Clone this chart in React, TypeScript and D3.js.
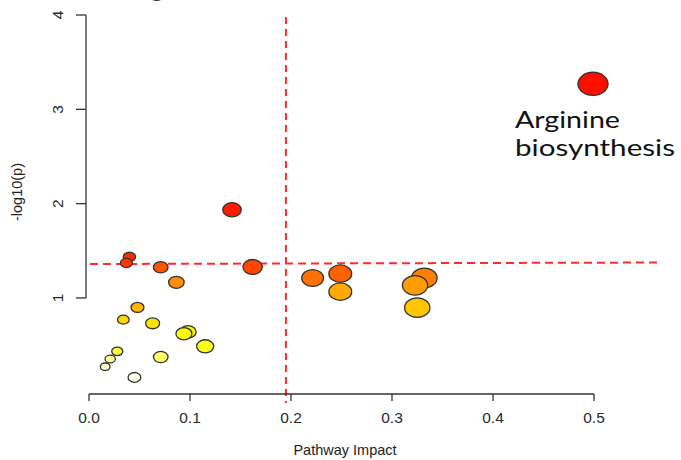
import React from "react";
import * as d3 from "d3";

// Pathway data (ordered by -log10(p), descending = plotting order)
const pathwayImpact = [0.067, 0.499, 0.1416, 0.04, 0.037, 0.162, 0.071, 0.2488, 0.2214, 0.332, 0.0865, 0.3228, 0.2488, 0.048, 0.325, 0.034, 0.063, 0.098, 0.094, 0.115, 0.028, 0.071, 0.021, 0.016, 0.045];
const negLogP = [4.214, 3.27, 1.936, 1.435, 1.371, 1.329, 1.325, 1.258, 1.212, 1.212, 1.166, 1.134, 1.067, 0.9, 0.897, 0.77, 0.731, 0.64, 0.621, 0.487, 0.434, 0.374, 0.353, 0.271, 0.158];
const xTicks = [0, 0.1, 0.2, 0.3, 0.4, 0.5];
const yTicks = [1, 2, 3, 4];
const impactThreshold = 0.195;
const pThreshold = 1.36;
const labelLines = ["Arginine", "biosynthesis"];
const labelIndex = 1;

function hsvToRgb(h: number, s: number, v: number) {
  const f = (n: number) => {
    const k = (n + h * 6) % 6;
    return v - v * s * Math.max(0, Math.min(k, 4 - k, 1));
  };
  return d3.rgb(f(5) * 255, f(3) * 255, f(1) * 255).formatHex();
}

// R's heat.colors(n)
function heatColors(n: number) {
  const j = Math.floor(n / 4);
  const i = n - j;
  const cols: string[] = [];
  for (let k = 0; k < i; k++) {
    const h = i > 1 ? (k / (i - 1)) * (1 / 6) : 0;
    cols.push(hsvToRgb(h, 1, 1));
  }
  for (let k = 0; k < j; k++) {
    const s0 = 1 - 1 / (2 * j);
    const s1 = 1 / (2 * j);
    const s = j > 1 ? s0 + ((s1 - s0) * k) / (j - 1) : s0;
    cols.push(hsvToRgb(1 / 6, s, 1));
  }
  return cols;
}

export default function App() {
  const W = 681;
  const H = 460;
  const x = d3.scaleLinear().domain([0, 0.5]).range([89, 594]);
  const y = d3.scaleLinear().domain([0, 4]).range([392.3, 15]);
  const ry = d3.scaleSqrt().domain([0, 0.5]).range([2, 11.6]);
  const n = negLogP.length;
  const order = d3.range(n).sort((a, b) => negLogP[b] - negLogP[a]);
  const heat = heatColors(n);
  const colorOf: string[] = new Array(n);
  order.forEach((idx, r) => (colorOf[idx] = heat[r]));

  const axisY = 394;
  const axisX = 86;
  const font = "'Liberation Sans', Arial, sans-serif";

  return (
    <svg width={W} height={H} style={{ position: "absolute", left: 0, top: 0, background: "#fff" }}>
      <rect width={W} height={H} fill="#fff" />
      {/* dashed threshold lines */}
      <line x1={x(impactThreshold)} x2={x(impactThreshold)} y1={17} y2={403} stroke="#ff2a2a" strokeWidth={2} strokeDasharray="7,5" />
      <line x1={x(0.001)} x2={x(0.565)} y1={y(pThreshold)} y2={y(pThreshold) - 1.5} stroke="#ff2a2a" strokeWidth={2} strokeDasharray="8,5" />

      {/* points */}
      {d3.range(n).map((i) => (
        <ellipse
          key={i}
          cx={x(pathwayImpact[i])}
          cy={y(negLogP[i])}
          rx={ry(pathwayImpact[i]) * 1.3}
          ry={ry(pathwayImpact[i])}
          fill={colorOf[i]}
          stroke="#333"
          strokeWidth={1.3}
        />
      ))}

      {/* x axis */}
      <line x1={x(0)} x2={x(0.5)} y1={axisY} y2={axisY} stroke="#333" strokeWidth={1.3} />
      {xTicks.map((t) => (
        <g key={t}>
          <line x1={x(t)} x2={x(t)} y1={axisY} y2={axisY + 7} stroke="#333" strokeWidth={1.3} />
          <text x={x(t)} y={423} textAnchor="middle" fontFamily={font} fontSize={15.5} fill="#2a2a2a">
            {t.toFixed(1)}
          </text>
        </g>
      ))}
      <text x={345} y={455} textAnchor="middle" fontFamily={font} fontSize={14.5} fill="#222">
        Pathway Impact
      </text>

      {/* y axis */}
      <line x1={axisX} x2={axisX} y1={y(1)} y2={y(4)} stroke="#333" strokeWidth={1.3} />
      {yTicks.map((t) => (
        <g key={t}>
          <line x1={axisX - 10} x2={axisX} y1={y(t)} y2={y(t)} stroke="#333" strokeWidth={1.3} />
          <text transform={`translate(63,${y(t)}) rotate(-90)`} textAnchor="middle" fontFamily={font} fontSize={15.5} fill="#2a2a2a">
            {t}
          </text>
        </g>
      ))}
      <text transform={`translate(22,192) rotate(-90)`} textAnchor="middle" fontFamily={font} fontSize={14.5} fill="#222">
        -log10(p)
      </text>

      {/* annotation */}
      {labelLines.map((s, k) => (
        <text
          key={s}
          x={x(pathwayImpact[labelIndex]) - 78}
          y={y(negLogP[labelIndex]) + 44.5 + k * 28}
          fontFamily="Lato, 'Open Sans', sans-serif"
          fontSize={23}
          fill="#111"
          textLength={k === 0 ? 105 : 160}
          lengthAdjust="spacingAndGlyphs"
        >
          {s}
        </text>
      ))}
    </svg>
  );
}
